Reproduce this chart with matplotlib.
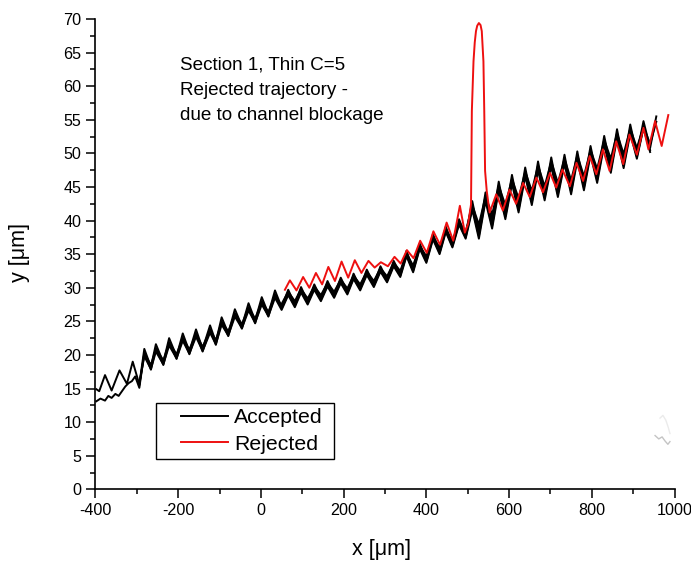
import numpy as np
import matplotlib
matplotlib.use("Agg")
import matplotlib.pyplot as plt
from matplotlib.ticker import MultipleLocator
from matplotlib.legend_handler import HandlerLine2D

plt.rcParams['font.family'] = ['Liberation Sans', 'DejaVu Sans']
plt.rcParams['axes.unicode_minus'] = False

# ---------------- data ----------------
# shared x positions of oscillation extrema for accepted trajectories
GRID_X = [-310, -294, -282, -266, -254, -236, -222, -204, -189, -173, -157, -141, -123, -109,
          -95, -79, -63, -46, -30, -14, 2, 18, 34,
          50, 66, 82, 97, 113, 129, 145, 161, 177, 193, 209, 224, 240, 256, 273, 289, 305, 321, 337,
          352, 368, 384, 400, 416, 432, 447, 463, 479, 495,
          511, 527, 543, 559, 575, 591, 607, 623, 639, 655, 670, 686, 702, 718, 734, 750, 765, 781,
          797, 813, 830, 846, 861, 877, 893, 909, 925, 941, 956]

B1_HEAD_X = [-398, -391, -377, -361, -342, -324]
B1_HEAD_Y = [14.9, 14.6, 17.0, 14.7, 17.7, 15.7]
B1_Y = [19.0, 15.6, 20.9, 18.2, 21.6, 18.9, 22.5, 19.8, 23.2, 20.5, 23.8, 20.9, 24.4, 21.9,
        25.6, 23.2, 26.8, 24.3, 27.7, 25.1, 28.6, 26.1, 29.6,
        27.1, 29.7, 27.5, 30.1, 27.9, 30.5, 28.4, 31.0, 28.9, 31.5, 29.4, 32.1, 30.0, 32.7, 30.5, 33.2, 31.2, 34.0, 32.0,
        35.5, 32.7, 36.6, 34.1, 38.0, 35.4, 39.1, 36.4, 40.2, 37.7,
        42.9, 38.0, 44.2, 39.5, 45.8, 40.9, 46.8, 41.9, 47.9, 43.0, 48.8, 43.7, 49.4, 44.2, 49.8, 44.6,
        50.3, 45.2, 51.1, 46.3, 52.6, 47.8, 53.6, 48.5, 54.3, 49.8, 54.8, 50.8, 55.5]

B2_HEAD_X = [-398, -388, -377, -369, -361, -352, -344, -336, -328, -320, -312, -304]
B2_HEAD_Y = [13.1, 13.5, 13.2, 13.9, 13.6, 14.2, 13.9, 14.6, 15.3, 15.8, 16.1, 16.8]
B2_Y = [15.1, 20.3, 17.8, 21.0, 18.5, 21.9, 19.4, 22.6, 20.1, 23.2, 20.5, 23.8, 21.5,
        25.0, 22.8, 26.2, 23.9, 27.1, 24.7, 28.0, 25.7, 29.0,
        26.9, 29.1, 27.3, 29.5, 27.7, 29.9, 28.2, 30.4, 28.7, 30.9, 29.2, 31.5, 29.8, 32.1, 30.3, 32.6, 31.0, 33.4, 31.8,
        34.9, 32.5, 36.0, 33.9, 37.4, 35.2, 38.5, 36.2, 39.6, 37.5,
        42.0, 37.7, 43.3, 39.2, 44.9, 40.6, 45.9, 41.6, 47.0, 42.7, 47.9, 43.4, 48.5, 43.9, 48.9, 44.3,
        49.4, 44.9, 50.2, 46.0, 51.7, 47.5, 52.7, 48.2, 53.4, 49.5, 53.9, 50.5]

B3_Y = [15.5, 20.2, 18.5, 20.9, 19.2, 21.8, 20.1, 22.5, 20.8, 23.1, 21.2, 23.7, 22.2,
        24.9, 23.5, 26.1, 24.6, 27.0, 25.4, 27.9, 26.4, 28.9,
        27.3, 29.3, 27.7, 29.7, 28.1, 30.1, 28.6, 30.6, 29.1, 31.1, 29.6, 31.7, 30.2, 32.3, 30.7, 32.8, 31.4, 33.6, 32.2,
        35.0, 33.0, 36.1, 34.4, 37.5, 35.7, 38.6, 36.7, 39.7, 38.0,
        41.9, 38.8, 43.2, 40.3, 44.8, 41.7, 45.8, 42.7, 46.9, 43.8, 47.8, 44.5, 48.4, 45.0, 48.8, 45.4,
        49.3, 46.0, 50.1, 47.1, 51.6, 48.6, 52.6, 49.3, 53.3, 50.4, 54.0, 51.4, 54.7]

B4_Y = [15.8, 19.8, 17.9, 20.5, 18.6, 21.4, 19.5, 22.1, 20.2, 22.7, 20.6, 23.3, 21.6,
        24.5, 22.9, 25.7, 24.0, 26.6, 24.8, 27.5, 25.8, 28.5,
        26.7, 28.9, 27.1, 29.3, 27.5, 29.7, 28.0, 30.2, 28.5, 30.7, 29.0, 31.3, 29.6, 31.9, 30.1, 32.4, 30.8, 33.2, 31.6,
        34.7, 32.3, 35.8, 33.7, 37.2, 35.0, 38.3, 36.0, 39.4, 37.3,
        41.6, 37.3, 42.9, 38.8, 44.5, 40.2, 45.5, 41.2, 46.6, 42.3, 47.5, 43.0, 48.1, 43.5, 48.5, 43.9,
        49.0, 44.5, 49.8, 45.6, 51.3, 47.1, 52.3, 47.8, 53.0, 49.2, 53.8, 50.2]

B5_Y = [27.6, 29.4, 28.0, 29.8, 28.4, 30.2, 28.9, 30.7, 29.4, 31.2, 29.9, 31.8, 30.5, 32.4, 31.0, 32.9, 31.7, 33.7, 32.5,
        35.1, 33.3, 36.2, 34.7, 37.6, 36.0, 38.7, 37.0, 39.8, 38.3,
        42.3, 39.4, 43.6, 40.9, 45.2, 42.3, 46.2, 43.3, 47.3, 44.4, 48.2, 45.1, 48.8, 45.6, 49.2, 46.0,
        49.7, 46.6, 50.5, 47.7, 52.0, 49.2, 53.0, 49.9, 53.7, 50.8, 54.0]

RED_X = [58, 70, 86, 102, 117, 133, 148, 163, 179, 195, 211, 227, 243, 260, 275, 290, 307, 323, 338, 353,
         369, 385, 401, 417, 433, 449, 465, 481, 493, 501, 508, 510, 514, 517, 520, 523, 527, 531, 534, 538,
         540, 542, 546, 553, 569, 585, 601, 617, 634, 650, 666, 682, 699, 714, 729, 747, 763, 779, 795,
         811, 827, 843, 859, 876, 891, 909, 925, 937, 953, 969, 985]
RED_Y = [29.7, 31.1, 29.6, 31.6, 30.0, 32.2, 30.5, 33.1, 31.0, 33.9, 31.5, 34.1, 32.2, 34.0, 33.0, 33.8, 33.2, 34.6, 33.6, 35.6,
         34.4, 37.0, 35.2, 38.4, 36.4, 39.7, 37.0, 42.2, 38.2, 39.5, 42.4, 56.3, 63.7, 66.5, 68.2, 69.0, 69.4, 69.1, 68.2, 63.7,
         56.3, 47.4, 44.4, 41.2, 43.9, 41.5, 44.6, 42.5, 45.6, 43.5, 46.4, 44.2, 47.1, 44.9, 47.6, 45.1, 48.6, 45.9, 49.6,
         46.9, 50.6, 47.4, 51.8, 48.4, 52.8, 49.8, 53.8, 50.6, 54.8, 51.1, 55.7]

# faint grey residue in the lower right corner
ART_A_X = [965, 972, 979, 985, 989]
ART_A_Y = [10.6, 11.0, 10.3, 9.2, 8.3]
ART_B_X = [953, 962, 970, 977, 984, 989]
ART_B_Y = [8.0, 7.5, 7.8, 7.2, 6.7, 7.1]

X_TICKS = [-400, -200, 0, 200, 400, 600, 800, 1000]
Y_TICKS = [0, 5, 10, 15, 20, 25, 30, 35, 40, 45, 50, 55, 60, 65, 70]
NOTE_LINES = ["Section 1, Thin C=5", "Rejected trajectory -", "due to channel blockage"]

# assemble trajectories
accepted = [
    (B1_HEAD_X + GRID_X[0:81], B1_HEAD_Y + B1_Y),
    (B2_HEAD_X + GRID_X[1:80], B2_HEAD_Y + B2_Y),
    (GRID_X[1:81], B3_Y),
    (GRID_X[1:80], B4_Y),
    (GRID_X[23:79], B5_Y),
]
for xs, ys in accepted:
    assert len(xs) == len(ys), (len(xs), len(ys))
assert len(RED_X) == len(RED_Y), (len(RED_X), len(RED_Y))

# ---------------- figure ----------------
W, H = 691, 561
fig = plt.figure(figsize=(W / 100, H / 100), dpi=100)
ax = fig.add_axes([95.5 / W, (H - 489.3) / H, 579 / W, 470.3 / H])

BLACK = '#000000'
RED = '#ee1010'
LW = 1.4

ax.plot(ART_A_X, ART_A_Y, color='#ebebeb', lw=1.0, zorder=1)
ax.plot(ART_B_X, ART_B_Y, color='#c4c4c4', lw=1.0, zorder=1)

for i, (xs, ys) in enumerate(accepted):
    ax.plot(xs, ys, color=BLACK, lw=LW, label='Accepted' if i == 0 else None, zorder=2,
            solid_joinstyle='round')
ax.plot(RED_X, RED_Y, color=RED, lw=LW, label='Rejected', zorder=3, solid_joinstyle='round')

ax.set_xlim(-400, 1000)
ax.set_ylim(0, 70)
ax.set_xticks(X_TICKS)
ax.set_yticks(Y_TICKS)
ax.xaxis.set_minor_locator(MultipleLocator(100))
ax.yaxis.set_minor_locator(MultipleLocator(2.5))
ax.tick_params(which='major', direction='out', length=6.5, width=1.1, labelsize=11.6, pad=3.5)
ax.tick_params(which='minor', direction='out', length=3.5, width=1.1)
for s in ['top', 'right']:
    ax.spines[s].set_visible(False)
for s in ['left', 'bottom']:
    ax.spines[s].set_linewidth(1.2)

ax.set_xlabel('x [μm]', fontsize=15.5)
ax.set_ylabel('y [μm]', fontsize=15.5)
ax.xaxis.set_label_coords((382 - 95.5) / 579, (489.3 - 549) / 470.3)
ax.xaxis.label.set_va('center')
ax.yaxis.set_label_coords((20 - 95.5) / 579, (489.3 - 253) / 470.3)
ax.yaxis.label.set_va('center')
ax.yaxis.label.set_ha('center')

for k, line in enumerate(NOTE_LINES):
    fig.text(180 / W, 1 - (65 + 25.5 * k) / H, line, fontsize=13.6, ha='left', va='center')


class InsetLine(HandlerLine2D):
    def __init__(self, frac, **kw):
        super().__init__(**kw)
        self.frac = frac

    def create_artists(self, legend, orig_handle, xdescent, ydescent, width, height, fontsize, trans):
        arts = super().create_artists(legend, orig_handle, xdescent, ydescent, width, height, fontsize, trans)
        for a in arts:
            xd = np.asarray(a.get_xdata(), float)
            if len(xd) >= 2:
                a.set_xdata(np.linspace(xd[0] + self.frac * (xd[-1] - xd[0]), xd[-1], len(xd)))
        return arts


leg = ax.legend(loc='upper left',
                bbox_to_anchor=(155.7 / W, (H - 459.3) / H, (334.3 - 155.7) / W, 56 / H),
                bbox_transform=fig.transFigure, mode='expand', borderaxespad=0,
                fontsize=15.3, handlelength=3.17, handletextpad=0.3, borderpad=0.22,
                labelspacing=0.37, fancybox=False, framealpha=1, edgecolor='black',
                handler_map={matplotlib.lines.Line2D: InsetLine(0.3)})
leg.get_frame().set_linewidth(1.0)

fig.savefig('out.png', dpi=100)
